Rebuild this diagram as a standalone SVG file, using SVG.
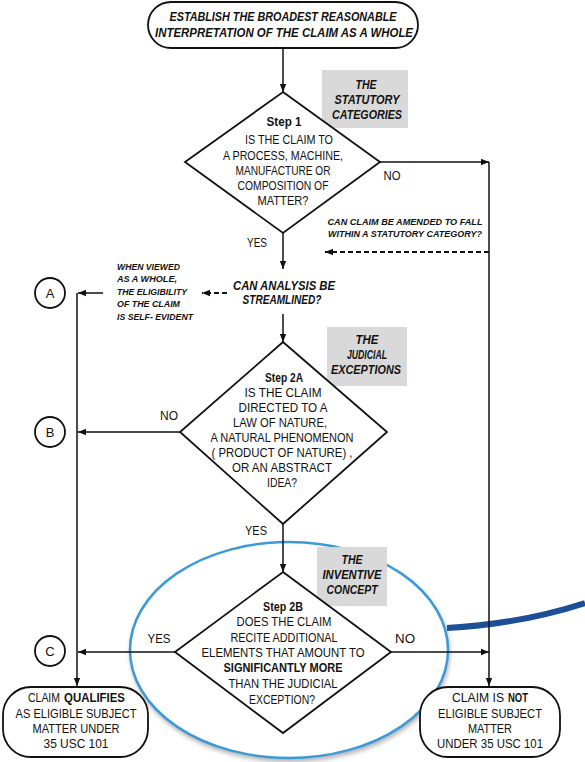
<svg xmlns="http://www.w3.org/2000/svg" width="585" height="762" viewBox="0 0 585 762">
<defs>
<style>
.t{font-family:"Liberation Sans",Arial,sans-serif;font-size:13px;fill:#111;text-anchor:middle}
.st{text-anchor:start}
.b{font-weight:bold}
.i{font-style:italic;font-weight:bold}
.s{font-size:9px}
.ln{stroke:#111;stroke-width:1.5;fill:none}
.dash{stroke:#111;stroke-width:2;fill:none;stroke-dasharray:5 3}
.shape{fill:#fff;stroke:#111;stroke-width:1.8}
.gray{fill:#d9d9d9}
</style>
<marker id="ah" viewBox="0 0 10 10" refX="10" refY="5" markerWidth="9" markerHeight="8" markerUnits="userSpaceOnUse" orient="auto"><path d="M0,1 L10,5 L0,9z" fill="#111"/></marker>
<filter id="sh" x="-10%" y="-10%" width="120%" height="130%"><feDropShadow dx="1" dy="3" stdDeviation="2" flood-color="#888" flood-opacity="0.6"/></filter>
</defs>
<rect width="585" height="762" fill="#fff"/>

<g id="scope">
<ellipse cx="289" cy="650" rx="159" ry="108" fill="#fff" stroke="#3b9bd6" stroke-width="2.5" filter="url(#sh)"/>
<path d="M447,628 Q520,624 585,603" fill="none" stroke="#1d4f98" stroke-width="6"/>
</g>

<g id="labels-gray">
<rect class="gray" x="322" y="70" width="86" height="58"/>
<rect class="gray" x="327" y="327" width="80" height="59"/>
<rect class="gray" x="317" y="547" width="70" height="59"/>
</g>

<g id="connectors">
<path class="ln" d="M283,48 V92" marker-end="url(#ah)"/>
<path class="ln" d="M380,162 H489" marker-end="url(#ah)"/>
<path class="ln" d="M489,162 V686" marker-end="url(#ah)"/>
<path class="dash" d="M489,252 H325" marker-end="url(#ah)"/>
<path class="ln" d="M283,233 V269" marker-end="url(#ah)"/>
<path class="dash" d="M227,293 H202" marker-end="url(#ah)"/>
<path class="ln" d="M103,293 H78" marker-end="url(#ah)"/>
<path class="ln" d="M77,293 V686" marker-end="url(#ah)"/>
<path class="ln" d="M283,314 V342" marker-end="url(#ah)"/>
<path class="ln" d="M180,432 H78" marker-end="url(#ah)"/>
<path class="ln" d="M283,524 V572" marker-end="url(#ah)"/>
<path class="ln" d="M175,652 H78" marker-end="url(#ah)"/>
<path class="ln" d="M391,652 H489" marker-end="url(#ah)"/>
</g>

<g id="start">
<rect class="shape" x="148" y="2" width="270" height="46" rx="23"/>
<text class="t i" x="283" y="21" textLength="227" lengthAdjust="spacingAndGlyphs">ESTABLISH THE BROADEST REASONABLE</text>
<text class="t i" x="284" y="37" textLength="258" lengthAdjust="spacingAndGlyphs">INTERPRETATION OF THE CLAIM AS A WHOLE</text>
</g>

<g id="step1">
<path class="shape" d="M283,92 L380,162 L283,233 L185,162 Z"/>
<text class="t b" x="284" y="126" textLength="35" lengthAdjust="spacingAndGlyphs">Step 1</text>
<text class="t" x="289" y="144" textLength="88" lengthAdjust="spacingAndGlyphs">IS THE CLAIM TO</text>
<text class="t" x="283" y="160" textLength="120" lengthAdjust="spacingAndGlyphs">A PROCESS, MACHINE,</text>
<text class="t" x="283" y="175" textLength="95" lengthAdjust="spacingAndGlyphs">MANUFACTURE OR</text>
<text class="t" x="283" y="190" textLength="91" lengthAdjust="spacingAndGlyphs">COMPOSITION OF</text>
<text class="t" x="283" y="205" textLength="51" lengthAdjust="spacingAndGlyphs">MATTER?</text>
<text class="t i" x="366" y="89" textLength="21" lengthAdjust="spacingAndGlyphs">THE</text>
<text class="t i" x="367" y="104" textLength="65" lengthAdjust="spacingAndGlyphs">STATUTORY</text>
<text class="t i" x="367" y="119" textLength="70" lengthAdjust="spacingAndGlyphs">CATEGORIES</text>
<text class="t" x="392" y="180" textLength="17" lengthAdjust="spacingAndGlyphs">NO</text>
<text class="t" x="257" y="247" textLength="20" lengthAdjust="spacingAndGlyphs">YES</text>
</g>

<g id="amend">
<text class="t i s" x="405" y="225" textLength="155" lengthAdjust="spacingAndGlyphs">CAN CLAIM BE AMENDED TO FALL</text>
<text class="t i s" x="405" y="237" textLength="154" lengthAdjust="spacingAndGlyphs">WITHIN A STATUTORY CATEGORY?</text>
</g>

<g id="streamline">
<text class="t i" x="284" y="290" textLength="102" lengthAdjust="spacingAndGlyphs">CAN ANALYSIS BE</text>
<text class="t i" x="282" y="304" textLength="79" lengthAdjust="spacingAndGlyphs">STREAMLINED?</text>
</g>

<g id="self-evident">
<text class="t i s st" x="117" y="270" textLength="63" lengthAdjust="spacingAndGlyphs">WHEN VIEWED</text>
<text class="t i s st" x="117" y="282" textLength="60" lengthAdjust="spacingAndGlyphs">AS A WHOLE,</text>
<text class="t i s st" x="117" y="295" textLength="70" lengthAdjust="spacingAndGlyphs">THE ELIGIBILITY</text>
<text class="t i s st" x="117" y="307" textLength="63" lengthAdjust="spacingAndGlyphs">OF THE CLAIM</text>
<text class="t i s st" x="117" y="320" textLength="76" lengthAdjust="spacingAndGlyphs">IS SELF- EVIDENT</text>
</g>

<g id="step2a">
<path class="shape" d="M283,342 L387,432 L283,524 L180,432 Z"/>
<text class="t b" x="284" y="382" textLength="38" lengthAdjust="spacingAndGlyphs">Step 2A</text>
<text class="t" x="283" y="397" textLength="77" lengthAdjust="spacingAndGlyphs">IS THE CLAIM</text>
<text class="t" x="283" y="412" textLength="89" lengthAdjust="spacingAndGlyphs">DIRECTED TO A</text>
<text class="t" x="280" y="427" textLength="94" lengthAdjust="spacingAndGlyphs">LAW OF NATURE,</text>
<text class="t" x="282" y="442" textLength="143" lengthAdjust="spacingAndGlyphs">A NATURAL PHENOMENON</text>
<text class="t" x="282" y="457" textLength="141" lengthAdjust="spacingAndGlyphs">( PRODUCT OF NATURE) ,</text>
<text class="t" x="282" y="472" textLength="100" lengthAdjust="spacingAndGlyphs">OR AN ABSTRACT</text>
<text class="t" x="282" y="487" textLength="30" lengthAdjust="spacingAndGlyphs">IDEA?</text>
<text class="t i" x="367" y="344" textLength="23" lengthAdjust="spacingAndGlyphs">THE</text>
<text class="t i" x="367" y="359" textLength="40" lengthAdjust="spacingAndGlyphs">JUDICIAL</text>
<text class="t i" x="366" y="374" textLength="70" lengthAdjust="spacingAndGlyphs">EXCEPTIONS</text>
<text class="t" x="169" y="420" textLength="18" lengthAdjust="spacingAndGlyphs">NO</text>
<text class="t" x="256" y="535" textLength="22" lengthAdjust="spacingAndGlyphs">YES</text>
</g>

<g id="step2b">
<path class="shape" d="M283,572 L391,652 L283,733 L175,652 Z"/>
<text class="t b" x="283" y="611" textLength="40" lengthAdjust="spacingAndGlyphs">Step 2B</text>
<text class="t" x="284" y="626" textLength="95" lengthAdjust="spacingAndGlyphs">DOES THE CLAIM</text>
<text class="t" x="284" y="642" textLength="107" lengthAdjust="spacingAndGlyphs">RECITE ADDITIONAL</text>
<text class="t" x="283" y="657" textLength="163" lengthAdjust="spacingAndGlyphs">ELEMENTS THAT AMOUNT TO</text>
<text class="t b" x="283" y="672" textLength="119" lengthAdjust="spacingAndGlyphs">SIGNIFICANTLY MORE</text>
<text class="t" x="283" y="688" textLength="109" lengthAdjust="spacingAndGlyphs">THAN THE JUDICIAL</text>
<text class="t" x="282" y="704" textLength="66" lengthAdjust="spacingAndGlyphs">EXCEPTION?</text>
<text class="t i" x="352" y="564" textLength="21" lengthAdjust="spacingAndGlyphs">THE</text>
<text class="t i" x="352" y="579" textLength="59" lengthAdjust="spacingAndGlyphs">INVENTIVE</text>
<text class="t i" x="352" y="594" textLength="51" lengthAdjust="spacingAndGlyphs">CONCEPT</text>
<text class="t" x="159" y="643" textLength="23" lengthAdjust="spacingAndGlyphs">YES</text>
<text class="t" x="405" y="643" textLength="20" lengthAdjust="spacingAndGlyphs">NO</text>
</g>

<g id="A"><circle class="shape" cx="50" cy="293" r="15"/><text class="t" x="50" y="298" font-size="12">A</text></g>
<g id="B"><circle class="shape" cx="50" cy="432" r="15"/><text class="t" x="50" y="437" font-size="12">B</text></g>
<g id="C"><circle class="shape" cx="50" cy="651" r="15"/><text class="t" x="50" y="656" font-size="12">C</text></g>

<g id="eligible">
<rect class="shape" x="3" y="687" width="145" height="70" rx="28"/>
<text class="t st" x="28" y="702" textLength="32" lengthAdjust="spacingAndGlyphs">CLAIM</text>
<text class="t b st" x="64" y="702" textLength="61" lengthAdjust="spacingAndGlyphs">QUALIFIES</text>
<text class="t" x="76" y="718" textLength="121" lengthAdjust="spacingAndGlyphs">AS ELIGIBLE SUBJECT</text>
<text class="t" x="76" y="733" textLength="87" lengthAdjust="spacingAndGlyphs">MATTER UNDER</text>
<text class="t" x="76" y="748" textLength="65" lengthAdjust="spacingAndGlyphs">35 USC 101</text>
</g>

<g id="not-eligible">
<rect class="shape" x="420" y="687" width="140" height="70" rx="28"/>
<text class="t st" x="452" y="702" textLength="52" lengthAdjust="spacingAndGlyphs">CLAIM IS</text>
<text class="t b st" x="508" y="702" textLength="20" lengthAdjust="spacingAndGlyphs">NOT</text>
<text class="t" x="490" y="718" textLength="104" lengthAdjust="spacingAndGlyphs">ELIGIBLE SUBJECT</text>
<text class="t" x="490" y="733" textLength="44" lengthAdjust="spacingAndGlyphs">MATTER</text>
<text class="t" x="490" y="748" textLength="106" lengthAdjust="spacingAndGlyphs">UNDER 35 USC 101</text>
</g>
</svg>
